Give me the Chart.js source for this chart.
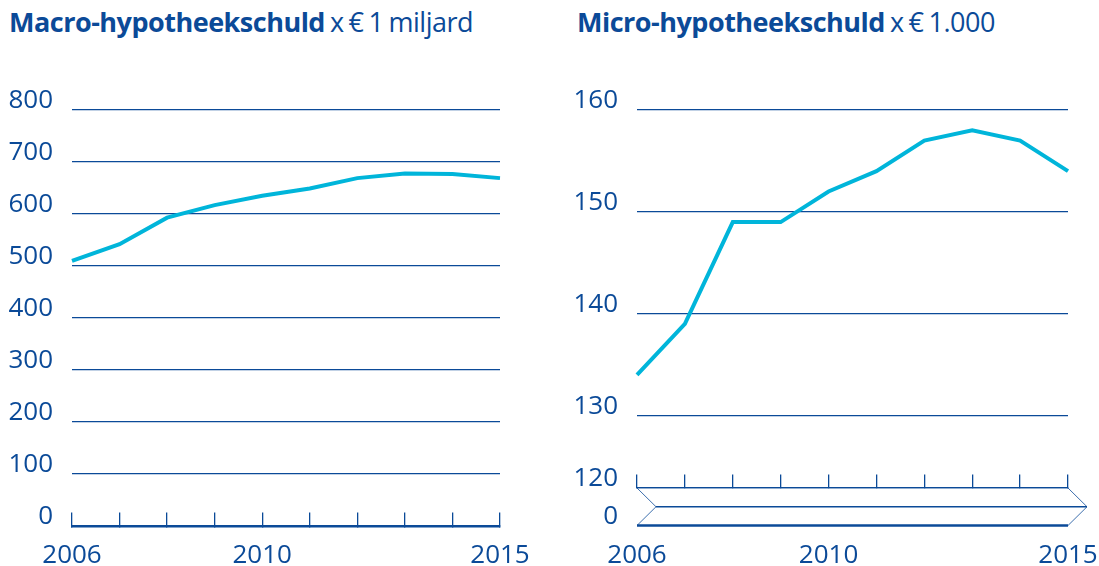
<!DOCTYPE html>
<html>
<head>
<meta charset="utf-8">
<script src="https://cdn.jsdelivr.net/npm/chart.js@4.4.0/dist/chart.umd.min.js"></script>
<style>
  body { margin: 0; background: #fff; width: 1099px; height: 566px; overflow: hidden; position: relative; font-family: "Open Sans", sans-serif; color: #0b4a98; }
  .titel { position: absolute; top: 5px; font-size: 27px; line-height: 34px; white-space: nowrap; letter-spacing: -0.5px; word-spacing: -1.5px; }
  .titel b { font-weight: 700; }
  canvas { position: absolute; top: 0; }
</style>
</head>
<body>
<div class="titel" style="left:9px"><b>Macro-hypotheekschuld</b> x € 1 miljard</div>
<div class="titel" style="left:577px"><b>Micro-hypotheekschuld</b> x € 1.000</div>
<canvas id="macro" width="540" height="566" style="left:0"></canvas>
<canvas id="micro" width="539" height="566" style="left:560px"></canvas>
<script>
// gegevens
const jaren = ['2006','2007','2008','2009','2010','2011','2012','2013','2014','2015'];
const toonJaren = ['2006','2010','2015'];
const macroSchuld = [510, 542, 593, 617, 635, 649, 669, 678, 677, 669]; // x € 1 miljard
const microSchuld = [134, 139, 149, 149, 152, 154, 157, 158, 157, 154]; // x € 1.000
const macroTicks = [0, 100, 200, 300, 400, 500, 600, 700, 800];
const microTicks = [120, 130, 140, 150, 160];
const microBreukLabel = ['0'];

const blauw = '#0b4a98';
const cyaan = '#00b5da';
const font = { family: '"Open Sans", sans-serif', size: 26 };

// x-as: alleen 2006, 2010 en 2015 tonen, streepjes naar binnen
// (labelhoogte via lineHeight, want ticks.padding telt ook mee in de zijmarge)
function xAs(regelHoogte, hoogte, randDikte) {
  return {
    type: 'category',
    grid: { display: true, drawOnChartArea: false, drawTicks: true, tickLength: -13.5, color: blauw, lineWidth: 1.3 },
    border: { display: true, color: blauw, width: randDikte },
    ticks: {
      autoSkip: false, maxRotation: 0, padding: 0, color: blauw,
      font: { family: font.family, size: font.size, lineHeight: regelHoogte },
      callback: (v, i) => toonJaren.includes(jaren[i]) ? jaren[i] : ''
    },
    afterFit: (s) => { s.height = hoogte; }
  };
}

function yAs(breedte, extra) {
  return Object.assign({
    grid: { display: true, drawTicks: false, color: blauw, lineWidth: 1.3 },
    border: { display: false },
    ticks: { padding: 19, labelOffset: -9, font: font, color: blauw },
    afterFit: (s) => { s.width = breedte; }
  }, extra);
}

function lijn(data) {
  return {
    data: data,
    borderColor: cyaan,
    borderWidth: 4,
    pointRadius: 0,
    tension: 0,
    fill: false
  };
}

const basis = {
  responsive: false,
  animation: false,
  plugins: { legend: { display: false }, tooltip: { enabled: false } }
};

// ---------------- macro ----------------
new Chart(document.getElementById('macro'), {
  type: 'line',
  data: { labels: jaren, datasets: [ lijn(macroSchuld) ] },
  options: Object.assign({}, basis, {
    layout: { padding: { left: 0, right: 40, top: 110, bottom: 0 } },
    scales: {
      x: xAs('86px', 40, 2.5),
      y: yAs(72, {
        min: macroTicks[0], max: macroTicks[macroTicks.length - 1],
        afterBuildTicks: (s) => { s.ticks = macroTicks.map(v => ({ value: v })); }
      })
    }
  })
});

// ---------------- micro (met asbreuk) ----------------
const breukPlugin = {
  id: 'breuk',
  afterDraw(chart) {
    const ctx = chart.ctx;
    const a = chart.chartArea;
    const hoog = 37.5, inspring = 19;
    const top = a.bottom, mid = a.bottom + hoog / 2, onder = a.bottom + hoog;
    ctx.save();
    ctx.strokeStyle = blauw;
    // schuine lijntjes
    ctx.lineWidth = 0.8;
    ctx.beginPath();
    ctx.moveTo(a.left, top); ctx.lineTo(a.left + inspring, mid); ctx.lineTo(a.left, onder);
    ctx.moveTo(a.right, top); ctx.lineTo(a.right + inspring, mid); ctx.lineTo(a.right, onder);
    ctx.stroke();
    // middenlijn
    ctx.lineWidth = 1.3;
    ctx.beginPath();
    ctx.moveTo(a.left + inspring, mid); ctx.lineTo(a.right + inspring, mid);
    ctx.stroke();
    // onderlijn
    ctx.lineWidth = 2.5;
    ctx.beginPath();
    ctx.moveTo(a.left, onder); ctx.lineTo(a.right, onder);
    ctx.stroke();
    // label 0
    ctx.fillStyle = blauw;
    ctx.font = font.size + 'px ' + font.family;
    ctx.textAlign = 'right';
    ctx.textBaseline = 'middle';
    ctx.fillText(microBreukLabel[0], a.left - 19, onder - 9);
    ctx.restore();
  }
};

new Chart(document.getElementById('micro'), {
  type: 'line',
  data: { labels: jaren, datasets: [ lijn(microSchuld) ] },
  options: Object.assign({}, basis, {
    layout: { padding: { left: 0, right: 31, top: 110, bottom: 0 } },
    scales: {
      x: xAs('162px', 78, 1.3),
      y: yAs(77, {
        min: 122.9, max: microTicks[microTicks.length - 1],
        afterBuildTicks: (s) => {
          s.ticks = [{ value: s.min }].concat(microTicks.slice(1).map(v => ({ value: v })));
        },
        ticks: {
          padding: 19, labelOffset: -9, font: font, color: blauw,
          callback: (v, i) => microTicks[i]
        }
      })
    }
  }),
  plugins: [breukPlugin]
});
</script>
</body>
</html>
